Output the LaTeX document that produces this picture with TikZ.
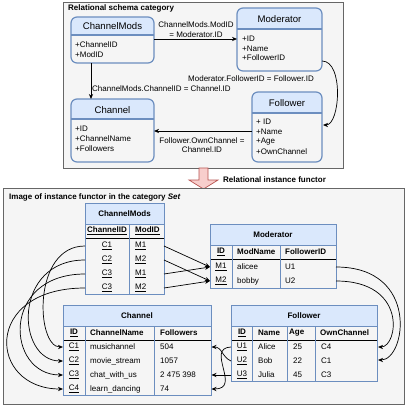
\documentclass[tikz,border=0pt]{standalone}
\usepackage{fontspec}
\setmainfont{Liberation Sans}
\usetikzlibrary{arrows.meta}
\definecolor{contf}{HTML}{F5F5F5}
\definecolor{contl}{HTML}{666666}
\definecolor{hdrf}{HTML}{DAE8FC}
\definecolor{hdrl}{HTML}{6C8EBF}
\definecolor{pinkf}{HTML}{F8CECC}
\definecolor{pinkl}{HTML}{B85450}
\newcommand\schbox[5]{%
  \begin{scope}
    \clip[rounded corners=6pt] (#1,#2) rectangle (#3,#4);
    \fill[hdrf] (#1,#2) rectangle (#3,#5);
  \end{scope}
  \draw[hdrl, line width=1.2pt, rounded corners=6pt] (#1,#2) rectangle (#3,#4);
  \draw[hdrl, line width=1.2pt] (#1,#5) -- (#3,#5);
}
\newcommand\tblbox[6]{% x1 y1 x2 y2 yhead ycol
  \fill[hdrf] (#1,#2) rectangle (#3,#5);
  \draw[hdrl, line width=0.8pt] (#1,#5) -- (#3,#5);
  \draw[black, line width=0.9pt] (#1,#6) -- (#3,#6);
  \draw[hdrl, line width=0.8pt] (#1,#2) rectangle (#3,#4);
}
\begin{document}
\begin{tikzpicture}[x=1pt,y=-1pt,
  txt/.style={inner sep=0pt, font=\fontsize{8}{9.5}\selectfont},
  btxt/.style={inner sep=0pt, font=\fontsize{8}{9.5}\selectfont\bfseries},
  ttl/.style={inner sep=0pt, font=\fontsize{9.6}{11}\selectfont},
  conn/.style={draw=black, line width=0.7pt, -{Stealth[length=5pt,width=4.2pt]}},
  coldiv/.style={draw=hdrl, line width=0.8pt}]
\useasboundingbox (0,0) rectangle (407,407);
\fill[white] (0,0) rectangle (407,407);

% ---------- top container
\draw[contl, fill=contf, line width=0.8pt] (63,2) rectangle (343,168);
\node[btxt, anchor=west] (topT) at (68,8.5) {Relational schema category};

\schbox{71}{17}{154}{63}{35}
\schbox{237}{8}{322}{71}{29}
\schbox{71}{99}{154}{162}{119}
\schbox{252}{92}{322}{162}{113}

\node[ttl] (sCMt) at (112.5,26) {ChannelMods};
\node[txt, anchor=west] (sCMa) at (75,45) {+ChannelID};
\node[txt, anchor=west] (sCMb) at (75,55) {+ModID};

\node[ttl] (sMt) at (279.5,19) {Moderator};
\node[txt, anchor=west] (sMa) at (242,39) {+ID};
\node[txt, anchor=west] (sMb) at (242,48.5) {+Name};
\node[txt, anchor=west] (sMc) at (242,58) {+FollowerID};

\node[ttl] (sCt) at (112.5,110) {Channel};
\node[txt, anchor=west] (sCa) at (75,129) {+ID};
\node[txt, anchor=west] (sCb) at (75,139) {+ChannelName};
\node[txt, anchor=west] (sCc) at (75,149) {+Followers};

\node[ttl] (sFt) at (287,103) {Follower};
\node[txt, anchor=west] (sFa) at (256,122) {+ ID};
\node[txt, anchor=west] (sFb) at (256,132) {+Name};
\node[txt, anchor=west] (sFc) at (256,142) {+Age};
\node[txt, anchor=west] (sFd) at (256,152) {+OwnChannel};

\coordinate (pCMr) at (154,39);
\coordinate (pMl) at (237,39);
\coordinate (pCMb) at (91,63);
\coordinate (pCt) at (91,99);
\coordinate (pMr) at (322,61);
\coordinate (pFr) at (323,125);
\coordinate (pFl) at (252,131);
\coordinate (pCr) at (154,131);
\draw[conn] (pCMr) -- (pMl);
\draw[conn] (pCMb) -- (pCt);
\draw[conn] (pMr) .. controls (344,61) and (340,125) .. (pFr);
\draw[conn] (pFl) -- (pCr);

\node[txt, align=center] (l1) at (196,29.5) {ChannelMods.ModID\\= Moderator.ID};
\node[txt] (l2) at (251,79) {Moderator.FollowerID = Follower.ID};
\node[txt, anchor=west] (l3) at (92,89) {ChannelMods.ChannelID = Channel.ID};
\node[txt, align=center] (l4) at (202,145) {Follower.OwnChannel =\\Channel.ID};

% ---------- functor arrow
\draw[pinkl, fill=pinkf, line width=0.7pt] (199,168) -- (208,168) -- (208,180) -- (218,180) -- (203.5,189) -- (189,180) -- (199,180) -- cycle;
\node[btxt, anchor=west] (fT) at (223,180) {Relational instance functor};

% ---------- bottom container
\draw[contl, fill=contf, line width=0.8pt] (3,188.5) rectangle (404,404.5);
\node[btxt, anchor=west] (botT) at (9,197) {Image of instance functor in the category \textit{Set}};

% ChannelMods table
\tblbox{85}{203}{164}{294}{224}{238}
\draw[coldiv] (129,224) -- (129,294);
\node[btxt] (tCMt) at (124.5,214) {ChannelMods};
\node[btxt] (tCMh1) at (107,231) {\underline{ChannelID}};
\node[btxt, anchor=west] (tCMh2) at (135,231) {\underline{ModID}};
\node[txt] (cm1a) at (107,246) {\underline{C1}};
\node[txt] (cm2a) at (107,260) {\underline{C2}};
\node[txt] (cm3a) at (107,274) {\underline{C3}};
\node[txt] (cm4a) at (107,288) {\underline{C3}};
\node[txt, anchor=west] (cm1b) at (135,246) {\underline{M1}};
\node[txt, anchor=west] (cm2b) at (135,260) {\underline{M2}};
\node[txt, anchor=west] (cm3b) at (135,274) {\underline{M1}};
\node[txt, anchor=west] (cm4b) at (135,288) {\underline{M2}};

% Moderator table
\tblbox{210}{224}{336}{288}{245}{259}
\draw[coldiv] (232,245) -- (232,288);
\draw[coldiv] (280,245) -- (280,288);
\node[btxt] (tMt) at (273,234.5) {Moderator};
\node[btxt] (tMh1) at (221,252) {\underline{ID}};
\node[btxt, anchor=west] (tMh2) at (237,252) {ModName};
\node[btxt, anchor=west] (tMh3) at (285,252) {FollowerID};
\node[txt] (m1a) at (221,267) {\underline{M1}};
\node[txt, anchor=west] (m1b) at (237,267) {alicee};
\node[txt, anchor=west] (m1c) at (285,267) {U1};
\node[txt] (m2a) at (221,281) {\underline{M2}};
\node[txt, anchor=west] (m2b) at (237,281) {bobby};
\node[txt, anchor=west] (m2c) at (285,281) {U2};

% Channel table
\tblbox{63}{305}{211}{395}{326}{340}
\draw[coldiv] (85,326) -- (85,395);
\draw[coldiv] (154,326) -- (154,395);
\node[btxt] (tCt) at (137,315.5) {Channel};
\node[btxt] (tCh1) at (74,333) {\underline{ID}};
\node[btxt, anchor=west] (tCh2) at (90,333) {ChannelName};
\node[btxt, anchor=west] (tCh3) at (160,333) {Followers};
\node[txt] (c1a) at (74,347) {\underline{C1}};
\node[txt, anchor=west] (c1b) at (90,347) {musichannel};
\node[txt, anchor=west] (c1c) at (160,347) {504};
\node[txt] (c2a) at (74,361) {\underline{C2}};
\node[txt, anchor=west] (c2b) at (90,361) {movie\_stream};
\node[txt, anchor=west] (c2c) at (160,361) {1057};
\node[txt] (c3a) at (74,375) {\underline{C3}};
\node[txt, anchor=west] (c3b) at (90,375) {chat\_with\_us};
\node[txt, anchor=west] (c3c) at (160,375) {2 475 398};
\node[txt] (c4a) at (74,389) {\underline{C4}};
\node[txt, anchor=west] (c4b) at (90,389) {learn\_dancing};
\node[txt, anchor=west] (c4c) at (160,389) {74};

% Follower table
\tblbox{231}{305}{377}{381}{326}{340}
\draw[coldiv] (252,326) -- (252,381);
\draw[coldiv] (287,326) -- (287,381);
\draw[coldiv] (315,326) -- (315,381);
\node[btxt] (tFt) at (304,315.5) {Follower};
\node[btxt] (tFh1) at (242,333) {\underline{ID}};
\node[btxt, anchor=west] (tFh2) at (258,333) {Name};
\node[btxt, anchor=west] (tFh3) at (289,333) {Age};
\node[btxt, anchor=west] (tFh4) at (320,333) {OwnChannel};
\node[txt] (f1a) at (242,347) {\underline{U1}};
\node[txt, anchor=west] (f1b) at (258,347) {Alice};
\node[txt, anchor=west] (f1c) at (293,347) {25};
\node[txt, anchor=west] (f1d) at (321,347) {C4};
\node[txt] (f2a) at (242,361) {\underline{U2}};
\node[txt, anchor=west] (f2b) at (258,361) {Bob};
\node[txt, anchor=west] (f2c) at (293,361) {22};
\node[txt, anchor=west] (f2d) at (321,361) {C1};
\node[txt] (f3a) at (242,375) {\underline{U3}};
\node[txt, anchor=west] (f3b) at (258,375) {Julia};
\node[txt, anchor=west] (f3c) at (293,375) {45};
\node[txt, anchor=west] (f3d) at (321,375) {C3};

% ---------- connector end points
\coordinate (cmL1) at (85,246);
\coordinate (cmL2) at (85,260);
\coordinate (cmL3) at (85,274);
\coordinate (cmL4) at (85,288);
\coordinate (cmR1) at (164,246);
\coordinate (cmR2) at (164,260);
\coordinate (cmR3) at (164,274);
\coordinate (cmR4) at (164,288);
\coordinate (mL1) at (210,267);
\coordinate (mL2) at (210,281);
\coordinate (mR1) at (336,267);
\coordinate (mR2) at (336,281);
\coordinate (cL1) at (63,347);
\coordinate (cL2) at (63,361);
\coordinate (cL3) at (63,375);
\coordinate (cL4) at (63,389);
\coordinate (cR1) at (211.5,347);
\coordinate (cR3) at (211.5,375);
\coordinate (cR4) at (211.5,389);
\coordinate (fL1) at (231,347);
\coordinate (fL2) at (231,361);
\coordinate (fL3) at (231,375);
\coordinate (fR1) at (378,347);
\coordinate (fR2) at (378,360);

% ChannelMods -> Moderator
\draw[conn] (cmR1) -- (mL1);
\draw[conn] (cmR2) -- (mL2);
\draw[conn] (cmR3) -- (mL1);
\draw[conn] (cmR4) -- (mL2);

% ChannelMods -> Channel
\draw[conn] (cmL1) .. controls (32,246) and (36,347) .. (cL1);
\draw[conn] (cmL2) .. controls (12,260) and (16,361) .. (cL2);
\draw[conn] (cmL3) .. controls (0,274) and (6,375) .. (cL3);
\draw[conn] (cmL4) .. controls (-18,288) and (-12,389) .. (cL4);

% Moderator -> Follower
\draw[conn] (mR1) .. controls (420,267) and (406,360) .. (fR2);
\draw[conn] (mR2) .. controls (408,281) and (398,347) .. (fR1);

% Follower -> Channel
\draw[conn] (fL1) .. controls (205,348) and (242,389) .. (cR4);
\draw[conn] (fL2) .. controls (222,357) and (222,347) .. (cR1);
\draw[conn] (fL3) -- (cR3);
\end{tikzpicture}
\end{document}
